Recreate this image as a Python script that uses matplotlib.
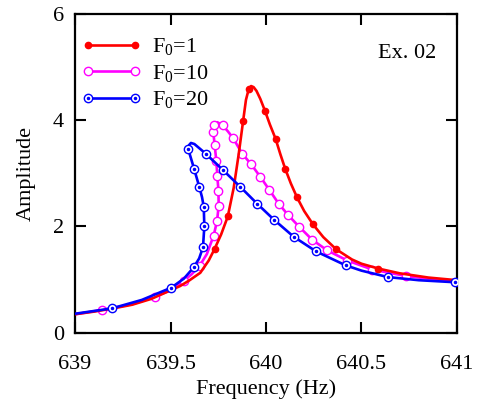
import matplotlib
matplotlib.use("Agg")
import matplotlib.pyplot as plt
from matplotlib.lines import Line2D
from matplotlib.legend_handler import HandlerTuple

plt.rcParams['font.family'] = ['Liberation Serif', 'DejaVu Serif']
plt.rcParams['mathtext.fontset'] = 'custom'
plt.rcParams['mathtext.rm'] = 'Liberation Serif'
plt.rcParams['mathtext.it'] = 'Liberation Serif:italic'

# ---- data ----
red_line_f = [639.00, 639.10, 639.20, 639.30, 639.40, 639.50, 639.55, 639.60, 639.656, 639.70,
              639.731, 639.765, 639.80, 639.831, 639.857, 639.88, 639.895, 639.910, 639.922, 639.935,
              639.95, 639.97, 639.994, 640.02, 640.05, 640.075, 640.10, 640.13, 640.162, 640.20,
              640.246, 640.30, 640.368, 640.45, 640.50, 640.587, 640.70, 640.85, 641.00]
red_line_a = [0.35, 0.40, 0.46, 0.53, 0.64, 0.80, 0.88, 0.99, 1.13, 1.36,
              1.58, 1.85, 2.19, 2.73, 3.36, 3.98, 4.38, 4.59, 4.64, 4.62,
              4.55, 4.40, 4.18, 3.92, 3.65, 3.36, 3.09, 2.81, 2.55, 2.29,
              2.04, 1.80, 1.57, 1.38, 1.30, 1.21, 1.12, 1.04, 0.99]
red_mark_f = [639.731, 639.80, 639.88, 639.910, 639.994, 640.05, 640.10, 640.162, 640.246, 640.368, 640.587]
red_mark_a = [1.58, 2.19, 3.98, 4.59, 4.18, 3.65, 3.09, 2.55, 2.04, 1.57, 1.21]

mag_line_f = [639.00, 639.14, 639.30, 639.42, 639.50, 639.569, 639.61, 639.652, 639.69, 639.726,
              639.744, 639.752, 639.751, 639.745, 639.740, 639.731, 639.724, 639.730, 639.745, 639.76,
              639.773, 639.80, 639.828, 639.875, 639.922, 639.971, 640.017, 640.066, 640.117, 640.175,
              640.242, 640.321, 640.426, 640.557, 640.732, 640.87, 641.00]
mag_line_a = [0.35, 0.43, 0.54, 0.68, 0.80, 0.98, 1.10, 1.26, 1.48, 1.83,
              2.11, 2.39, 2.67, 2.95, 3.23, 3.53, 3.78, 3.92, 3.96, 3.93,
              3.90, 3.79, 3.66, 3.37, 3.17, 2.93, 2.69, 2.43, 2.21, 1.99,
              1.75, 1.55, 1.36, 1.19, 1.07, 1.01, 0.97]
mag_mark_f = [639.14, 639.42, 639.569, 639.652, 639.726, 639.744, 639.752, 639.751, 639.745, 639.740,
              639.731, 639.724, 639.730, 639.773, 639.828, 639.875, 639.922, 639.971, 640.017, 640.066,
              640.117, 640.175, 640.242, 640.321, 640.426, 640.557, 640.732]
mag_mark_a = [0.43, 0.68, 0.98, 1.26, 1.83, 2.11, 2.39, 2.67, 2.95, 3.23,
              3.53, 3.78, 3.90, 3.90, 3.66, 3.37, 3.17, 2.93, 2.69, 2.43,
              2.21, 1.99, 1.75, 1.55, 1.36, 1.19, 1.07]

blue_line_f = [639.00, 639.193, 639.35, 639.504, 639.57, 639.621, 639.65, 639.670, 639.677, 639.674,
               639.665, 639.651, 639.623, 639.593, 639.597, 639.607, 639.625, 639.684, 639.775, 639.864,
               639.953, 640.041, 640.144, 640.263, 640.417, 640.50, 640.637, 640.80, 641.00]
blue_line_a = [0.36, 0.46, 0.62, 0.85, 1.02, 1.23, 1.40, 1.61, 2.00, 2.37,
               2.55, 2.74, 3.09, 3.45, 3.53, 3.57, 3.55, 3.37, 3.06, 2.75,
               2.43, 2.13, 1.81, 1.53, 1.27, 1.17, 1.05, 0.99, 0.95]
blue_mark_f = [639.193, 639.504, 639.621, 639.670, 639.677, 639.674, 639.651, 639.623, 639.593, 639.684,
               639.775, 639.864, 639.953, 640.041, 640.144, 640.263, 640.417, 640.637, 640.99]
blue_mark_a = [0.46, 0.85, 1.23, 1.61, 2.00, 2.37, 2.74, 3.09, 3.45, 3.37,
               3.06, 2.75, 2.43, 2.13, 1.81, 1.53, 1.27, 1.05, 0.96]

labels = ['F$_0$=1', 'F$_0$=10', 'F$_0$=20']
x_ticks = [639, 639.5, 640, 640.5, 641]
x_ticklabels = ['639', '639.5', '640', '640.5', '641']
y_ticks = [0, 2, 4, 6]

RED = '#ff0000'
MAG = '#ff00ff'
BLUE = '#0000ff'
FS = 16

fig = plt.figure(figsize=(4.78, 4.03), dpi=100)
ax = fig.add_axes([0.157, 0.174, 0.799, 0.792])

lw = 1.9
MS_OPEN = 6.0
ax.plot(red_line_f, red_line_a, color=RED, lw=lw, zorder=3)
ax.plot(red_mark_f, red_mark_a, ls='none', marker='o', ms=4.5, color=RED, zorder=4)

ax.plot(mag_line_f, mag_line_a, color=MAG, lw=lw, zorder=2)
ax.plot(mag_mark_f, mag_mark_a, ls='none', marker='o', ms=MS_OPEN, mfc='white', mec=MAG, mew=1.0, zorder=2.5)

ax.plot(blue_line_f, blue_line_a, color=BLUE, lw=lw, zorder=5)
ax.plot(blue_mark_f, blue_mark_a, ls='none', marker='o', ms=MS_OPEN, mfc='white', mec=BLUE, mew=1.0, zorder=6)
ax.plot(blue_mark_f, blue_mark_a, ls='none', marker='o', ms=1.5, color=BLUE, zorder=7)

ax.set_xlim(639, 641)
ax.set_ylim(0, 6)
ax.set_xticks(x_ticks)
ax.set_xticklabels(x_ticklabels)
ax.set_yticks(y_ticks)
ax.tick_params(direction='in', length=8, width=1.5, labelsize=FS, top=True, right=True)
ax.tick_params(axis='x', pad=16)
ax.tick_params(axis='y', pad=8)
for s in ax.spines.values():
    s.set_linewidth(1.6)
ax.set_xlabel('Frequency (Hz)', fontsize=FS, labelpad=4)
ax.set_ylabel('Amplitude', fontsize=FS, labelpad=12)

h1 = Line2D([], [], color=RED, lw=lw, marker='o', ms=4.5)
h2 = Line2D([], [], color=MAG, lw=lw, marker='o', ms=MS_OPEN, mfc='white', mec=MAG, mew=1.0)
h3a = Line2D([], [], color=BLUE, lw=lw, marker='o', ms=MS_OPEN, mfc='white', mec=BLUE, mew=1.0)
h3b = Line2D([], [], ls='none', color=BLUE, marker='o', ms=1.5)
ax.legend([h1, h2, (h3a, h3b)], labels, loc='upper left', frameon=False, fontsize=FS,
          numpoints=2, handlelength=2.7, handletextpad=0.45, labelspacing=0.25,
          borderaxespad=0.0, borderpad=0.3, bbox_to_anchor=(0.0, 0.95),
          handler_map={tuple: HandlerTuple(ndivide=1, pad=0)})

ax.text(0.945, 0.875, 'Ex. 02', transform=ax.transAxes, ha='right', va='center', fontsize=FS)

fig.savefig('out.png', dpi=100)
